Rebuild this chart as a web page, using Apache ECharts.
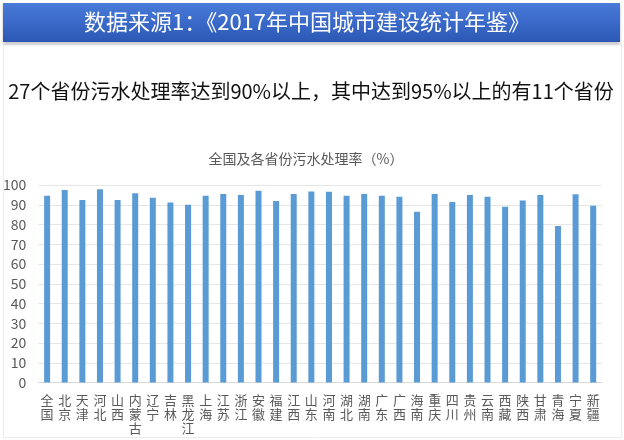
<!DOCTYPE html>
<html>
<head>
<meta charset="utf-8">
<script src="https://cdn.jsdelivr.net/npm/echarts@6/dist/echarts.min.js"></script>
<style>
html,body{margin:0;padding:0;background:#fff;}
#c{width:624px;height:440px;}
</style>
</head>
<body>
<div id="c"></div>
<script>
const headerText = '数据来源1：《2017年中国城市建设统计年鉴》';
const subtitleText = '27个省份污水处理率达到90%以上，其中达到95%以上的有11个省份';
const chartTitle = '全国及各省份污水处理率（%）';
const categories = ['全国','北京','天津','河北','山西','内蒙古','辽宁','吉林','黑龙江','上海','江苏','浙江','安徽','福建','江西','山东','河南','湖北','湖南','广东','广西','海南','重庆','四川','贵州','云南','西藏','陕西','甘肃','青海','宁夏','新疆'];
const values = [94.5,97.5,92.4,97.8,92.4,95.8,93.6,91.2,90.0,94.6,95.4,94.9,97.1,91.9,95.4,96.7,96.6,94.6,95.4,94.6,94.1,86.5,95.4,91.4,94.9,94.1,89.0,92.2,94.9,79.2,95.3,89.5];
const yTicks = {min: 0, max: 100, interval: 10};

const FONT = '"Noto Sans CJK SC", "Microsoft YaHei", sans-serif';
const chart = echarts.init(document.getElementById('c'), null, {renderer: 'canvas'});
chart.setOption({
  animation: false,
  backgroundColor: '#ffffff',
  textStyle: {fontFamily: FONT},
  graphic: [
    {type: 'rect', shape: {x: 3.5, y: 44.5, width: 618, height: 393}, style: {fill: 'none', stroke: '#ececec', lineWidth: 1}, z: 0},
    {type: 'rect', shape: {x: 3, y: 3, width: 617, height: 39},
      style: {fill: new echarts.graphic.LinearGradient(0, 0, 0, 1, [
        {offset: 0, color: '#4a7bd8'}, {offset: 0.5, color: '#3a69c9'}, {offset: 1, color: '#2c58b3'}]),
        shadowColor: 'rgba(0,0,0,0.25)', shadowBlur: 3, shadowOffsetY: 2}, z: 1},
    {type: 'text', x: 307, y: 22, style: {text: headerText, fill: '#ffffff', font: '22px ' + FONT, align: 'center', verticalAlign: 'middle'}, z: 2},
    {type: 'text', x: 311, y: 91, style: {text: subtitleText, fill: '#111111', font: '20px ' + FONT, align: 'center', verticalAlign: 'middle'}, z: 2},
    {type: 'text', x: 306, y: 159, style: {text: chartTitle, fill: '#595959', font: '14px ' + FONT, align: 'center', verticalAlign: 'middle'}, z: 2}
  ],
  grid: {left: 37, right: 22, top: 185, bottom: 57.5, containLabel: false},
  xAxis: {
    type: 'category',
    data: categories,
    axisTick: {show: false},
    axisLine: {lineStyle: {color: '#d9d9d9'}},
    axisLabel: {
      interval: 0, fontSize: 13, lineHeight: 14, color: '#595959', margin: 11, fontFamily: FONT,
      formatter: v => v.split('').join('\n')
    }
  },
  yAxis: {
    type: 'value', min: yTicks.min, max: yTicks.max, interval: yTicks.interval,
    axisLine: {show: false}, axisTick: {show: false},
    axisLabel: {fontSize: 14, color: '#595959', margin: 12, fontFamily: FONT},
    splitLine: {lineStyle: {color: '#e6e6e6'}}
  },
  series: [{
    type: 'bar', data: values, barWidth: 6,
    itemStyle: {color: '#5b9bd5'}
  }]
});
</script>
</body>
</html>
